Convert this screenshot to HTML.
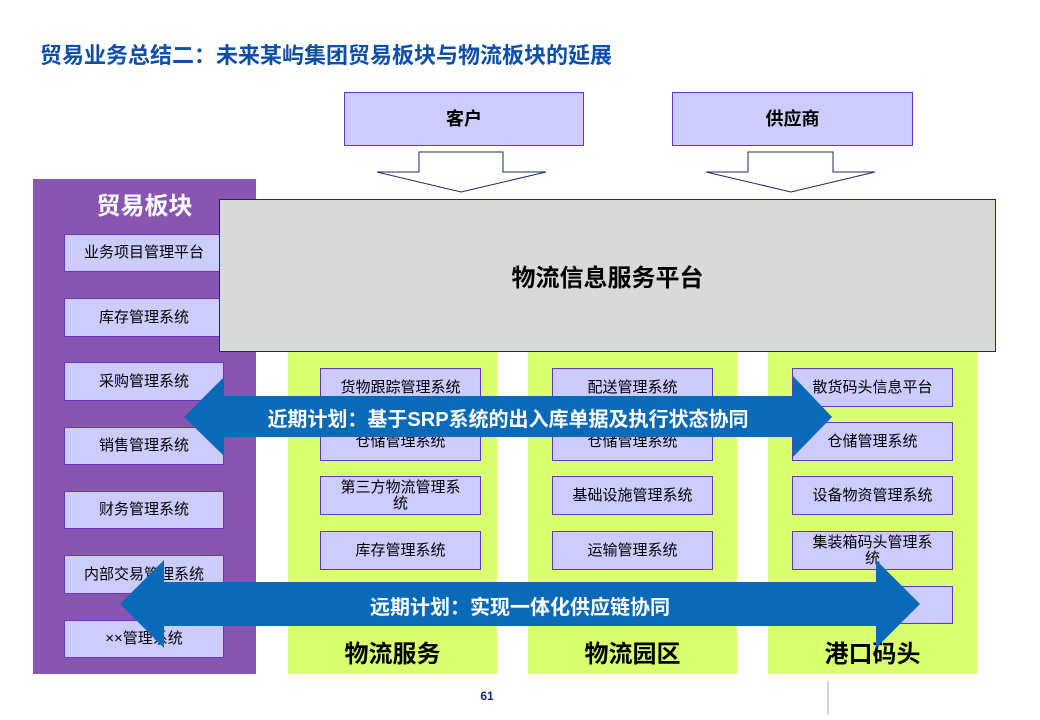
<!DOCTYPE html>
<html><head><meta charset="utf-8"><style>
body{margin:0;width:1040px;height:720px;background:#fff;position:relative;overflow:hidden;font-family:"Liberation Sans","Noto Sans CJK SC",sans-serif}
.a{position:absolute;box-sizing:border-box}
.bx{position:absolute;box-sizing:border-box;background:#ccccff;border:1.5px solid #6633cc;display:flex;align-items:center;justify-content:center;text-align:center;font-size:15px;color:#000;line-height:16px}
.pl{position:absolute;font-weight:bold;font-size:24px;color:#000;text-align:center}
</style></head><body>
<div class="a" style="left:40px;top:38px;font-size:22px;font-weight:bold;color:#0d4fa8">贸易业务总结二：未来某屿集团贸易板块与物流板块的延展</div>

<div class="bx" style="left:344px;top:92px;width:240px;height:54px;font-size:18px;font-weight:bold">客户</div>
<div class="bx" style="left:672px;top:92px;width:241px;height:54px;font-size:18px;font-weight:bold">供应商</div>

<div class="a" style="left:33px;top:179px;width:223px;height:495px;background:#8855b0"></div>
<div class="a" style="left:33px;top:186px;width:223px;text-align:center;font-size:24px;font-weight:bold;color:#fff">贸易板块</div>
<div class="a" style="left:288px;top:350px;width:209px;height:324px;background:#d9ff6f"></div>
<div class="a" style="left:528px;top:350px;width:209px;height:324px;background:#d9ff6f"></div>
<div class="a" style="left:768px;top:350px;width:209px;height:324px;background:#d9ff6f"></div>

<div class="bx" style="left:64px;top:234px;width:160px;height:38px">业务项目管理平台</div>
<div class="bx" style="left:64px;top:298px;width:160px;height:39px">库存管理系统</div>
<div class="bx" style="left:64px;top:362px;width:160px;height:39px">采购管理系统</div>
<div class="bx" style="left:64px;top:427px;width:160px;height:38px">销售管理系统</div>
<div class="bx" style="left:64px;top:491px;width:160px;height:38px">财务管理系统</div>
<div class="bx" style="left:64px;top:555px;width:160px;height:39px">内部交易管理系统</div>
<div class="bx" style="left:64px;top:620px;width:160px;height:38px">××管理系统</div>

<div class="bx" style="left:320px;top:368px;width:161px;height:39px">货物跟踪管理系统</div>
<div class="bx" style="left:320px;top:422px;width:161px;height:39px">仓储管理系统</div>
<div class="bx" style="left:320px;top:476px;width:161px;height:39px">第三方物流管理系<br>统</div>
<div class="bx" style="left:320px;top:531px;width:161px;height:39px">库存管理系统</div>

<div class="bx" style="left:552px;top:368px;width:161px;height:39px">配送管理系统</div>
<div class="bx" style="left:552px;top:422px;width:161px;height:39px">仓储管理系统</div>
<div class="bx" style="left:552px;top:476px;width:161px;height:39px">基础设施管理系统</div>
<div class="bx" style="left:552px;top:531px;width:161px;height:39px">运输管理系统</div>

<div class="bx" style="left:792px;top:368px;width:161px;height:39px">散货码头信息平台</div>
<div class="bx" style="left:792px;top:422px;width:161px;height:39px">仓储管理系统</div>
<div class="bx" style="left:792px;top:476px;width:161px;height:39px">设备物资管理系统</div>
<div class="bx" style="left:792px;top:531px;width:161px;height:39px">集装箱码头管理系<br>统</div>
<div class="bx" style="left:792px;top:586px;width:161px;height:38px"></div>

<div class="pl" style="left:288px;top:634px;width:209px">物流服务</div>
<div class="pl" style="left:528px;top:634px;width:209px">物流园区</div>
<div class="pl" style="left:768px;top:634px;width:209px">港口码头</div>

<div class="a" style="left:219px;top:199px;width:777px;height:153px;background:#d9d9d9;border:1.5px solid #1a2a6a;display:flex;align-items:center;justify-content:center;font-size:24px;font-weight:bold;padding-left:0">物流信息服务平台</div>

<svg class="a" style="left:0;top:0" width="1040" height="720">
<polygon points="419,152 503,152 503,172 546,172 461,192 377,172 419,172" fill="#fff" stroke="#1a2a6a" stroke-width="1"/>
<polygon points="748,152 833,152 833,172 875,172 791,192 706,172 748,172" fill="#fff" stroke="#1a2a6a" stroke-width="1"/>
<polygon points="184,417 224,377 224,396 793,396 793,376 832,417 793,457 793,437 224,437 224,456" fill="#0a6ab8"/>
<polygon points="120,604 164,560 164,582 876,582 876,560 920,604 876,648 876,626 164,626 164,648" fill="#0a6ab8"/>
<line x1="828" y1="681" x2="828" y2="715" stroke="#aaa" stroke-width="1"/>
</svg>
<div class="a" style="left:184px;top:403px;width:648px;text-align:center;font-size:20px;font-weight:bold;color:#fff">近期计划：基于SRP系统的出入库单据及执行状态协同</div>
<div class="a" style="left:120px;top:591px;width:800px;text-align:center;font-size:20px;font-weight:bold;color:#fff">远期计划：实现一体化供应链协同</div>
<div class="a" style="left:470px;top:689px;width:34px;text-align:center;font-size:12px;font-weight:bold;color:#1a2a6a">61</div>
</body></html>
